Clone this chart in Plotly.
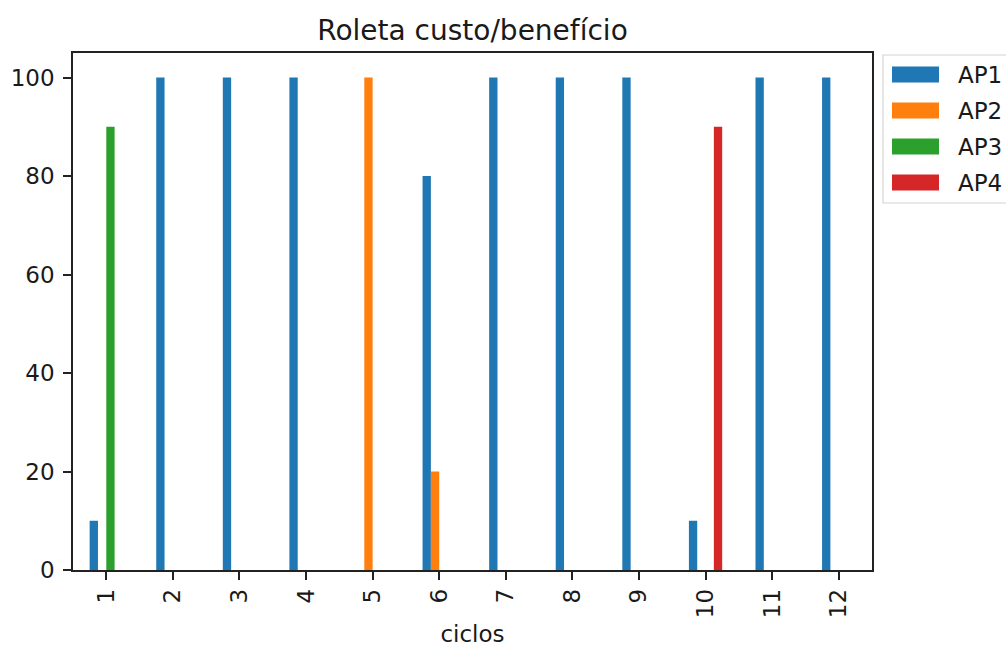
import plotly.graph_objects as go

# Cycle labels and per-strategy values
ciclos = ["1", "2", "3", "4", "5", "6", "7", "8", "9", "10", "11", "12"]
ap1 = [10, 100, 100, 100, 0, 80, 100, 100, 100, 10, 100, 100]
ap2 = [0, 0, 0, 0, 100, 20, 0, 0, 0, 0, 0, 0]
ap3 = [90, 0, 0, 0, 0, 0, 0, 0, 0, 0, 0, 0]
ap4 = [0, 0, 0, 0, 0, 0, 0, 0, 0, 90, 0, 0]
series_names = ["AP1", "AP2", "AP3", "AP4"]
colors = ["#1f77b4", "#ff7f0e", "#2ca02c", "#d62728"]
y_ticks = [0, 20, 40, 60, 80, 100]

FONT = "DejaVu Sans"
TEXT = "#1a1a1a"
W, H = 1006, 648
ML, MR, MT, MB = 73, 134, 53, 78
PW = W - ML - MR
PH = H - MT - MB

fig = go.Figure()
for name, vals, col in zip(series_names, [ap1, ap2, ap3, ap4], colors):
    fig.add_trace(go.Bar(
        x=ciclos, y=vals, name=name,
        marker=dict(color=col, line=dict(width=0)),
        showlegend=False,
    ))


def px_x(px):
    return (px - ML) / PW


def px_y(py):
    return (H - MB - py) / PH


# Legend panel drawn beside the axes
shapes = [dict(
    type="rect", xref="paper", yref="paper",
    x0=px_x(883), x1=px_x(1020), y0=px_y(203), y1=px_y(55),
    line=dict(color="#d4d4d4", width=1.2), fillcolor="white", layer="above",
)]
annotations = []
for i, (name, col) in enumerate(zip(series_names, colors)):
    cy = 74.5 + 36 * i
    shapes.append(dict(
        type="rect", xref="paper", yref="paper",
        x0=px_x(892), x1=px_x(939), y0=px_y(cy + 8), y1=px_y(cy - 8),
        line=dict(width=0), fillcolor=col, layer="above",
    ))
    annotations.append(dict(
        xref="paper", yref="paper", x=px_x(956), y=px_y(cy),
        text=name, showarrow=False, xanchor="left", yanchor="middle",
        font=dict(family=FONT, size=23, color=TEXT),
    ))

fig.update_layout(
    width=W, height=H,
    margin=dict(l=ML, r=MR, t=MT, b=MB),
    template="none",
    paper_bgcolor="white", plot_bgcolor="white",
    barmode="group", bargap=0.5, bargroupgap=0,
    font=dict(family=FONT, size=23, color=TEXT),
    title=dict(text="Roleta custo/benefício", x=0.5, xref="paper", xanchor="center",
               y=1 - 30 / H, yanchor="middle",
               font=dict(family=FONT, size=28, color=TEXT)),
    shapes=shapes,
    annotations=annotations,
)
fig.update_xaxes(
    type="category", range=[-0.5, 11.5],
    showline=True, mirror=True, linecolor="#222", linewidth=1.5,
    ticks="outside", ticklen=8, tickwidth=1.5, tickcolor="#222",
    tickangle=-90, showgrid=False, zeroline=False,
    tickfont=dict(family=FONT, size=23, color=TEXT),
    title=dict(text="ciclos", standoff=9, font=dict(family=FONT, size=23, color=TEXT)),
)
fig.update_yaxes(
    range=[0, 105], tickvals=y_ticks,
    showline=True, mirror=True, linecolor="#222", linewidth=1.5,
    ticks="outside", ticklen=8, tickwidth=1.5, tickcolor="#222",
    ticklabelstandoff=4,
    showgrid=False, zeroline=False,
    tickfont=dict(family=FONT, size=23, color=TEXT),
)

fig.write_html("out.html")
